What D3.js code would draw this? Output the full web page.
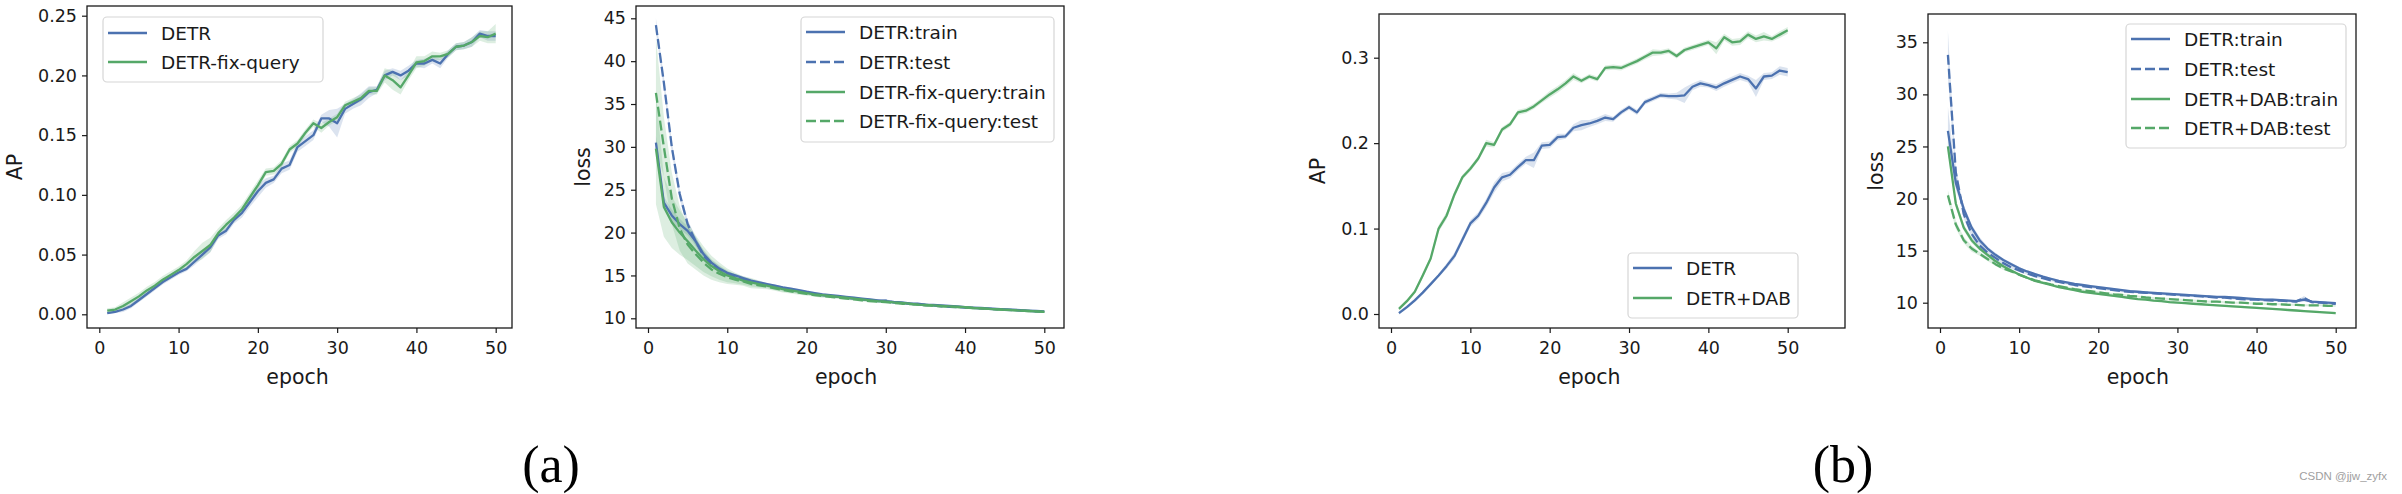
<!DOCTYPE html>
<html><head><meta charset="utf-8">
<script src="https://cdn.jsdelivr.net/npm/d3@7"></script>
<style>body{margin:0;background:#fff}svg{display:block}text{fill:#1a1a1a}</style>
</head><body>
<svg id="c" width="2402" height="494" font-family="DejaVu Sans"></svg>
<script>
const epochs = [1,2,3,4,5,6,7,8,9,10,11,12,13,14,15,16,17,18,19,20,21,22,23,24,25,26,27,28,29,30,31,32,33,34,35,36,37,38,39,40,41,42,43,44,45,46,47,48,49,50];
const xTicks = [0,10,20,30,40,50];

// (a) AP
const apA_detr = [0.001,0.002,0.004,0.007,0.012,0.017,0.022,0.027,0.031,0.035, 0.038,0.044,0.050,0.056,0.066,0.070,0.079,0.085,0.094,0.103, 0.110,0.113,0.122,0.125,0.140,0.145,0.150,0.164,0.164,0.160, 0.172,0.176,0.180,0.186,0.188,0.200,0.203,0.200,0.204,0.210, 0.210,0.213,0.210,0.218,0.224,0.225,0.228,0.235,0.233,0.233];
const apA_detr_sd = [0.001,0.001,0.002,0.002,0.002,0.002,0.002,0.002,0.002,0.002, 0.002,0.003,0.003,0.004,0.003,0.003,0.003,0.004,0.004,0.005, 0.004,0.003,0.004,0.004,0.004,0.004,0.004,0.003,0.007,0.012, 0.004,0.004,0.005,0.005,0.003,0.004,0.003,0.004,0.004,0.003, 0.004,0.003,0.004,0.003,0.003,0.003,0.004,0.003,0.004,0.004];
const apA_fix = [0.003,0.004,0.007,0.011,0.015,0.020,0.024,0.029,0.033,0.037, 0.042,0.048,0.053,0.058,0.068,0.075,0.081,0.088,0.098,0.108, 0.119,0.120,0.126,0.138,0.143,0.152,0.160,0.156,0.161,0.165, 0.175,0.178,0.181,0.187,0.187,0.200,0.196,0.190,0.200,0.211, 0.212,0.216,0.216,0.218,0.224,0.225,0.228,0.233,0.232,0.235];
const apA_fix_sd = [0.002,0.002,0.003,0.003,0.003,0.003,0.003,0.003,0.003,0.003, 0.003,0.005,0.007,0.006,0.004,0.004,0.004,0.004,0.004,0.004, 0.003,0.003,0.003,0.003,0.003,0.003,0.003,0.004,0.003,0.003, 0.003,0.003,0.003,0.003,0.003,0.006,0.008,0.006,0.004,0.005, 0.004,0.004,0.003,0.003,0.003,0.003,0.004,0.004,0.005,0.008];
const apA_yTicks = [0,0.05,0.10,0.15,0.20,0.25];

// (a) loss
const lossA_detr_train = [30.5,23.5,22.0,21.0,20.2,19.0,17.5,16.5,15.8,15.3, 15.0,14.7,14.4,14.2,14.0,13.8,13.6,13.45,13.3,13.1, 12.95,12.8,12.7,12.6,12.5,12.4,12.3,12.2,12.1,12.0, 11.9,11.85,11.75,11.7,11.6,11.55,11.5,11.45,11.4,11.3, 11.25,11.2,11.15,11.1,11.05,11.0,10.95,10.9,10.85,10.8];
const lossA_detr_test = [44.2,37.5,30.0,24.5,21.0,19.0,17.3,16.3,15.6,15.1, 14.8,14.5,14.3,14.1,13.9,13.7,13.5,13.35,13.2,13.0, 12.85,12.7,12.6,12.5,12.4,12.3,12.2,12.1,12.0,12.05, 11.85,11.75,11.7,11.6,11.55,11.5,11.4,11.35,11.3,11.25, 11.2,11.15,11.1,11.05,11.0,10.95,10.9,10.85,10.8,10.75];
const lossA_fix_train = [29.8,23.0,21.2,20.0,19.0,17.9,16.9,16.1,15.5,15.0, 14.7,14.4,14.2,14.0,13.8,13.6,13.4,13.25,13.1,12.95, 12.8,12.7,12.6,12.5,12.4,12.3,12.2,12.1,12.0,11.95, 11.85,11.8,11.7,11.6,11.55,11.5,11.45,11.4,11.35,11.3, 11.2,11.15,11.1,11.05,11.0,10.95,10.9,10.85,10.8,10.75];
const lossA_fix_test = [36.3,30.0,24.0,20.5,18.6,17.5,16.5,15.7,15.2,14.8, 14.5,14.3,14.0,13.85,13.7,13.5,13.3,13.15,13.0,12.85, 12.7,12.6,12.5,12.4,12.3,12.2,12.1,12.0,11.95,11.9, 11.8,11.7,11.65,11.6,11.5,11.45,11.4,11.35,11.3,11.25, 11.2,11.15,11.1,11.05,11.0,10.95,10.9,10.85,10.8,10.75];
const lossA_detr_sd = [0.8,0.7,0.7,0.6,0.5,0.5,0.4,0.3,0.3,0.2, 0.2,0.2,0.2,0.15,0.15,0.15,0.15,0.15,0.15,0.15, 0.15,0.15,0.1,0.1,0.1,0.1,0.1,0.1,0.1,0.2, 0.1,0.1,0.1,0.1,0.1,0.1,0.1,0.1,0.1,0.1, 0.1,0.1,0.1,0.1,0.1,0.1,0.1,0.1,0.1,0.1];
const lossA_fix_sd = [6.5,3.5,3.0,2.6,2.2,1.8,1.5,1.2,1.0,0.8, 0.6,0.5,0.5,0.4,0.3,0.3,0.3,0.25,0.25,0.2, 0.2,0.2,0.15,0.15,0.15,0.15,0.15,0.15,0.15,0.15, 0.1,0.1,0.1,0.1,0.1,0.1,0.1,0.1,0.1,0.1, 0.1,0.1,0.1,0.1,0.1,0.1,0.1,0.1,0.1,0.1];
const lossA_yTicks = [10,15,20,25,30,35,40,45];

// (b) AP
const apB_detr = [0.001,0.008,0.016,0.025,0.035,0.045,0.056,0.068,0.087,0.106, 0.115,0.130,0.148,0.160,0.163,0.172,0.180,0.180,0.197,0.198, 0.207,0.208,0.218,0.221,0.223,0.226,0.230,0.228,0.236,0.242, 0.236,0.248,0.252,0.256,0.255,0.255,0.256,0.266,0.270,0.268, 0.265,0.270,0.274,0.278,0.275,0.264,0.278,0.279,0.285,0.283];
const apB_detr_sd = [0.002,0.002,0.002,0.002,0.002,0.002,0.003,0.004,0.004,0.004, 0.004,0.005,0.006,0.005,0.004,0.004,0.004,0.009,0.004,0.004, 0.004,0.003,0.004,0.006,0.004,0.004,0.004,0.003,0.003,0.003, 0.003,0.003,0.003,0.003,0.003,0.004,0.009,0.004,0.004,0.003, 0.004,0.004,0.004,0.004,0.004,0.010,0.004,0.004,0.005,0.005];
const apB_dab = [0.006,0.015,0.026,0.045,0.065,0.100,0.115,0.140,0.160,0.170, 0.182,0.200,0.198,0.216,0.222,0.236,0.238,0.243,0.250,0.257, 0.263,0.270,0.278,0.273,0.278,0.275,0.288,0.289,0.288,0.292, 0.296,0.301,0.306,0.306,0.308,0.302,0.309,0.312,0.315,0.318, 0.311,0.324,0.318,0.319,0.327,0.322,0.325,0.322,0.327,0.332];
const apB_dab_sd = [0.002,0.002,0.002,0.003,0.003,0.004,0.004,0.004,0.003,0.003, 0.003,0.004,0.003,0.003,0.003,0.003,0.003,0.003,0.003,0.004, 0.004,0.004,0.004,0.003,0.003,0.003,0.003,0.003,0.003,0.003, 0.003,0.003,0.004,0.003,0.003,0.003,0.003,0.003,0.003,0.003, 0.007,0.004,0.004,0.004,0.004,0.004,0.005,0.003,0.004,0.004];
const apB_yTicks = [0,0.1,0.2,0.3];

// (b) loss
const lossB_detr_train = [26.5,21.5,19.0,17.2,16.0,15.2,14.6,14.1,13.7,13.3, 13.0,12.75,12.5,12.3,12.1,11.95,11.8,11.7,11.6,11.5, 11.4,11.3,11.2,11.1,11.05,11.0,10.95,10.9,10.85,10.8, 10.75,10.7,10.65,10.6,10.55,10.55,10.5,10.45,10.4,10.35, 10.3,10.3,10.25,10.2,10.15,10.3,10.1,10.05,10.0,9.95];
const lossB_detr_test = [33.8,22.5,18.5,16.6,15.5,14.8,14.3,13.8,13.4,13.1, 12.8,12.55,12.35,12.15,12.0,11.85,11.7,11.6,11.5,11.4, 11.3,11.2,11.1,11.05,11.0,10.95,10.9,10.85,10.8,10.75, 10.7,10.65,10.6,10.55,10.5,10.5,10.4,10.35,10.3,10.3, 10.25,10.2,10.2,10.15,10.1,10.45,10.05,10.0,9.95,9.9];
const lossB_dab_train = [25.0,19.5,17.2,16.0,15.2,14.6,14.0,13.5,13.1,12.7, 12.4,12.1,11.9,11.7,11.5,11.35,11.2,11.05,10.95,10.85, 10.75,10.65,10.55,10.45,10.35,10.3,10.2,10.15,10.05,10.0, 9.95,9.9,9.85,9.8,9.75,9.7,9.65,9.6,9.55,9.5, 9.45,9.4,9.35,9.3,9.25,9.2,9.15,9.1,9.05,9.0];
const lossB_dab_test = [20.3,17.5,16.0,15.2,14.7,14.2,13.7,13.3,13.0,12.7, 12.4,12.15,11.95,11.75,11.6,11.45,11.3,11.2,11.1,11.0, 10.9,10.8,10.75,10.65,10.6,10.5,10.45,10.4,10.35,10.3, 10.25,10.2,10.15,10.1,10.1,10.05,10.0,10.0,9.95,9.9, 9.9,9.85,9.85,9.8,9.8,9.75,9.75,9.75,9.7,9.7];
const lossB_detr_sd = [2.3,0.6,0.4,0.3,0.3,0.2,0.2,0.15,0.15,0.15, 0.1,0.1,0.1,0.1,0.1,0.1,0.1,0.1,0.1,0.1, 0.1,0.1,0.1,0.1,0.1,0.1,0.1,0.1,0.1,0.1, 0.1,0.1,0.1,0.1,0.1,0.1,0.1,0.1,0.1,0.1, 0.1,0.1,0.1,0.1,0.1,0.2,0.1,0.1,0.1,0.1];
const lossB_dab_sd = [0.5,0.4,0.3,0.3,0.2,0.2,0.15,0.15,0.1,0.1, 0.1,0.1,0.1,0.1,0.1,0.1,0.1,0.1,0.1,0.1, 0.1,0.1,0.1,0.1,0.1,0.1,0.1,0.1,0.1,0.1, 0.1,0.1,0.1,0.1,0.1,0.1,0.1,0.1,0.1,0.1, 0.1,0.1,0.1,0.1,0.1,0.1,0.1,0.1,0.1,0.1];

const BLUE = "#4c72b0", GREEN = "#55a868";
const SANS = "DejaVu Sans";

const panels = [
  {box:[87,512,6,328], xr:[99.3,495.7], yd:[0,0.25], yr:[314.3,15.7], yTicks:apA_yTicks, fmt:d3.format(".2f"), ylab:"AP", ylabX:22,
   series:[{v:apA_detr,sd:apA_detr_sd,c:BLUE,dash:null,name:"DETR"},{v:apA_fix,sd:apA_fix_sd,c:GREEN,dash:null,name:"DETR-fix-query"}],
   legend:{x:103,y:17,w:220,h:65,rows:[33,62]}},
  {box:[636,1064,6,328], xr:[648,1044.3], yd:[10,45], yr:[318.3,18.3], yTicks:lossA_yTicks, fmt:d3.format("d"), ylab:"loss", ylabX:590,
   series:[{v:lossA_detr_train,sd:lossA_detr_sd,c:BLUE,dash:null,name:"DETR:train"},{v:lossA_detr_test,sd:lossA_detr_sd,c:BLUE,dash:"10,4",name:"DETR:test"},
           {v:lossA_fix_train,sd:lossA_fix_sd,c:GREEN,dash:null,name:"DETR-fix-query:train"},{v:lossA_fix_test,sd:lossA_fix_sd,c:GREEN,dash:"10,4",name:"DETR-fix-query:test"}],
   legend:{x:801,y:17,w:253,h:125,rows:[32,62,92,121]}},
  {box:[1379,1845,14,328], xr:[1391,1787.7], yd:[0,0.3], yr:[314,57.7], yTicks:apB_yTicks, fmt:d3.format(".1f"), ylab:"AP", ylabX:1325,
   series:[{v:apB_detr,sd:apB_detr_sd,c:BLUE,dash:null,name:"DETR"},{v:apB_dab,sd:apB_dab_sd,c:GREEN,dash:null,name:"DETR+DAB"}],
   legend:{x:1628,y:253,w:170,h:65,rows:[268,298]}},
  {box:[1928,2356,14,328], xr:[1940,2335.7], yd:[10,35], yr:[302.7,42.3], yTicks:[10,15,20,25,30,35], fmt:d3.format("d"), ylab:"loss", ylabX:1883,
   series:[{v:lossB_detr_train,sd:lossB_detr_sd,c:BLUE,dash:null,name:"DETR:train"},{v:lossB_detr_test,sd:lossB_detr_sd,c:BLUE,dash:"10,4",name:"DETR:test"},
           {v:lossB_dab_train,sd:lossB_dab_sd,c:GREEN,dash:null,name:"DETR+DAB:train"},{v:lossB_dab_test,sd:lossB_dab_sd,c:GREEN,dash:"10,4",name:"DETR+DAB:test"}],
   legend:{x:2126,y:24,w:220,h:124,rows:[39,69,99,128]}}
];

const svg = d3.select("#c");

panels.forEach((p,pi)=>{
  const [L,R,T,B] = p.box;
  const x = d3.scaleLinear().domain([0,50]).range(p.xr);
  const y = d3.scaleLinear().domain(p.yd).range(p.yr);
  const g = svg.append("g");
  const clipId = "clip"+pi;
  g.append("clipPath").attr("id",clipId).append("rect").attr("x",L).attr("y",T).attr("width",R-L).attr("height",B-T);
  const plot = g.append("g").attr("clip-path",`url(#${clipId})`);
  p.series.forEach(s=>{
    const area = d3.area().x((d,i)=>x(epochs[i])).y0((d,i)=>y(d - s.sd[i])).y1((d,i)=>y(d + s.sd[i]));
    plot.append("path").attr("d",area(s.v)).attr("fill",s.c).attr("fill-opacity",0.2).attr("stroke","none");
  });
  p.series.forEach(s=>{
    const line = d3.line().x((d,i)=>x(epochs[i])).y(d=>y(d));
    plot.append("path").attr("d",line(s.v)).attr("fill","none").attr("stroke",s.c).attr("stroke-width",2.3)
      .attr("stroke-dasharray",s.dash).attr("stroke-linejoin","round");
  });
  g.append("rect").attr("x",L).attr("y",T).attr("width",R-L).attr("height",B-T).attr("fill","none").attr("stroke","#1a1a1a").attr("stroke-width",1.3);
  const xa = g.append("g").attr("transform",`translate(0,${B})`).call(d3.axisBottom(x).tickValues(xTicks).tickSize(5).tickPadding(5).tickFormat(d3.format("d")));
  xa.select(".domain").remove();
  xa.selectAll("line").attr("stroke","#1a1a1a").attr("stroke-width",1.2);
  xa.selectAll("text").style("font-family",SANS).style("font-size","17.5px").style("fill","#1a1a1a").attr("dy","0.9em");
  const ya = g.append("g").attr("transform",`translate(${L},0)`).call(d3.axisLeft(y).tickValues(p.yTicks).tickSize(5).tickPadding(5).tickFormat(p.fmt));
  ya.select(".domain").remove();
  ya.selectAll("line").attr("stroke","#1a1a1a").attr("stroke-width",1.2);
  ya.selectAll("text").style("font-family",SANS).style("font-size","17.5px").style("fill","#1a1a1a");
  g.append("text").attr("x",(p.xr[0]+p.xr[1])/2).attr("y",384).attr("text-anchor","middle").style("font-family",SANS).style("font-size","20.5px").text("epoch");
  g.append("text").attr("transform",`translate(${p.ylabX},${(T+B)/2}) rotate(-90)`).attr("text-anchor","middle").style("font-family",SANS).style("font-size","20.5px").text(p.ylab);
  const lg = p.legend;
  g.append("rect").attr("x",lg.x).attr("y",lg.y).attr("width",lg.w).attr("height",lg.h).attr("rx",4)
    .attr("fill","#fff").attr("fill-opacity",0.85).attr("stroke","#d6d6d6").attr("stroke-width",1.2);
  p.series.forEach((s,i)=>{
    const ry = lg.rows[i];
    g.append("line").attr("x1",lg.x+5).attr("x2",lg.x+44).attr("y1",ry).attr("y2",ry).attr("stroke",s.c).attr("stroke-width",2.3).attr("stroke-dasharray",s.dash);
    g.append("text").attr("x",lg.x+58).attr("y",ry).attr("dy","0.36em").style("font-family",SANS).style("font-size","18.5px").text(s.name);
  });
});

const SERIF = "'Liberation Serif','Times New Roman',serif";
svg.append("text").attr("x",551).attr("y",482).attr("text-anchor","middle").style("font-family",SERIF).style("font-size","52px").style("fill","#000").text("(a)");
svg.append("text").attr("x",1843).attr("y",482).attr("text-anchor","middle").style("font-family",SERIF).style("font-size","52px").style("fill","#000").text("(b)");
svg.append("text").attr("x",2387).attr("y",480).attr("text-anchor","end").style("font-family","'Liberation Sans',Arial,sans-serif").style("font-size","11.5px").style("fill","#a0a0a0").text("CSDN @jjw_zyfx");
</script>
</body></html>
